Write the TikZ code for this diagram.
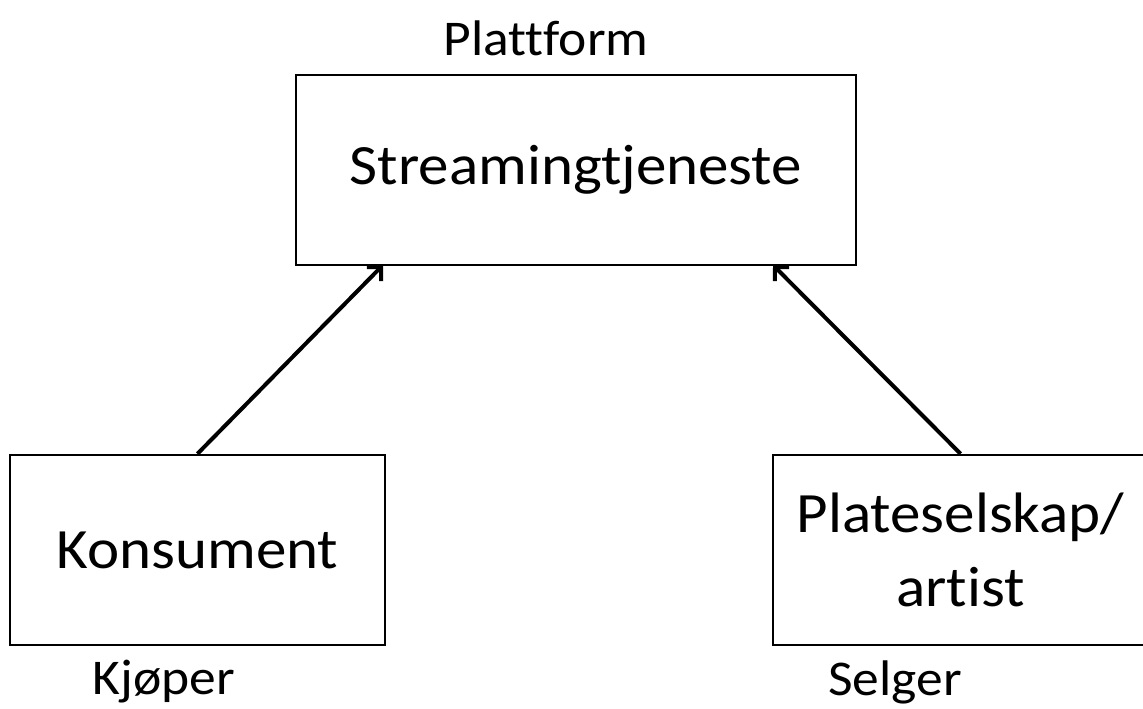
\documentclass[tikz,border=0pt]{standalone}
\usepackage{fontspec}
\setmainfont[FakeStretch=1.07,Ligatures=CommonOff]{Carlito}
\usetikzlibrary{positioning,arrows.meta}
\tikzset{>={Straight Barb[length=10pt,width=20pt]}}
\tikzset{
  box/.style={draw,line width=2.5pt,inner sep=0pt,minimum height=190pt,
    font=\fontsize{57}{74}\selectfont,align=center},
  role/.style={inner sep=0pt,font=\fontsize{50}{58}\selectfont},
  link/.style={->,line width=4pt}
}
\begin{document}
\begin{tikzpicture}[x=1pt,y=-1pt]

\useasboundingbox (0,0) rectangle (1143,709);

%%% The platform
\node[box,minimum width=560pt] (stream) at (576,170) {Streamingtjeneste};
\node[role] (plattform) at (546,38) {Plattform};

%%% Buyer and seller
\node[box,minimum width=375pt] (konsument) at (197.5,550) {Konsument};
\node[box,minimum width=375pt] (plate) at (960.5,550) {Plateselskap/\\artist};
\node[role] (kjoper) at (164,682) {Kjøper};
\node[role] (selger) at (895,682) {Selger};

%%% Links
\coordinate (inL) at (383,265);
\coordinate (inR) at (773,265);
\draw[link] (konsument.north) -- (inL);
\draw[link] (plate.north) -- (inR);

\end{tikzpicture}
\end{document}
